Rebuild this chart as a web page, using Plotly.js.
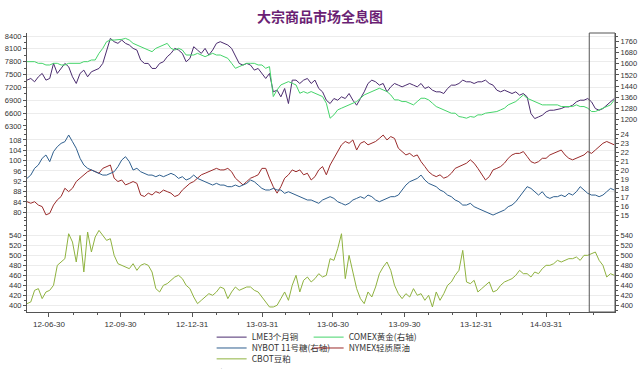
<!DOCTYPE html>
<html><head><meta charset="utf-8">
<script src="https://cdn.plot.ly/plotly-3.0.1.min.js"></script>
<style>html,body{margin:0;padding:0;background:#fff;}#chart{width:640px;height:369px;}</style>
</head><body><div id="chart"></div>
<script>
// Sampling: first sample 2012-06-01 18:00, one sample every 4.87 days
const startDate = Date.UTC(2012, 5, 1, 18);
const stepDays = 4.87;

const lmeCopper = [
7370,7409,7331,7448,7526,7370,7409,7760,7526,7643,
7760,7682,7448,7292,7526,7604,7448,7565,7604,7643,
7760,8072,8345,8267,8228,8306,8228,8189,8111,8072,
7838,7760,7760,7643,7643,7760,7799,7916,7994,8111,
8072,7994,7799,7877,8150,8072,7994,8111,7955,8072,
8228,8267,8228,8189,8111,7916,7760,7721,7760,7721,
7604,7643,7526,7409,7526,7097,7136,6980,7175,6824,
7370,7370,7292,7370,7409,7292,7370,7175,7097,6902,
6824,6941,6902,6980,6941,7058,6902,6785,6941,7097,
7292,7370,7331,7253,7292,7097,7214,7292,7253,7214,
7253,7292,7253,7214,7292,7175,7214,7136,7097,7097,
7058,7175,7253,7253,7292,7370,7331,7331,7292,7331,
7331,7370,7292,7253,7136,7097,7136,7097,7058,7097,
7019,7058,6980,6590,6473,6512,6551,6629,6668,6668,
6684,6707,6746,6746,6785,6863,6902,6902,6941,6863,
6707,6668,6707,6785,6863,6941];

const comexGold = [
1616,1616,1616,1604,1604,1592,1592,1604,1604,1592,
1592,1604,1604,1604,1604,1616,1616,1628,1628,1676,
1712,1760,1772,1772,1772,1777,1784,1772,1748,1736,
1724,1712,1700,1688,1712,1724,1736,1748,1712,1700,
1712,1700,1664,1664,1664,1676,1664,1652,1664,1676,
1664,1664,1652,1640,1604,1568,1580,1592,1604,1604,
1604,1592,1592,1568,1580,1364,1412,1448,1460,1472,
1460,1448,1388,1400,1388,1400,1388,1376,1364,1316,
1208,1232,1268,1280,1292,1304,1316,1328,1352,1376,
1388,1400,1412,1424,1412,1400,1376,1340,1340,1328,
1328,1316,1304,1328,1352,1352,1340,1316,1292,1280,
1268,1256,1244,1244,1220,1215,1208,1220,1215,1232,
1232,1244,1249,1256,1256,1268,1280,1304,1316,1328,
1352,1376,1352,1340,1328,1316,1304,1304,1304,1304,
1304,1292,1292,1292,1292,1304,1292,1292,1280,1256,
1256,1268,1280,1292,1304,1340];

const nybotSugar = [
19.07,19.44,20.19,20.56,21.30,21.67,20.93,22.04,22.59,22.96,
23.15,23.89,23.15,22.41,21.30,20.56,20.19,20.00,19.81,19.63,
19.44,19.44,19.63,19.81,20.37,21.11,21.48,20.93,20.00,20.19,
19.81,19.63,19.44,19.44,19.26,19.44,19.26,19.44,19.63,19.44,
19.07,19.26,18.89,19.07,19.44,19.07,18.89,18.70,18.52,18.33,
18.52,18.33,18.33,18.15,18.15,18.33,18.15,18.33,18.52,18.89,
18.70,18.33,17.96,17.78,17.78,17.96,17.78,17.78,17.41,17.59,
17.41,17.22,17.04,16.85,16.67,16.67,16.48,16.30,16.67,16.85,
17.04,16.85,16.48,16.30,16.11,16.30,16.67,16.85,17.04,16.85,
17.22,17.04,16.67,16.48,16.67,16.85,17.04,17.04,17.22,17.78,
18.33,18.70,18.89,19.07,19.44,18.89,18.52,18.33,18.15,17.78,
17.59,17.22,17.04,16.67,16.48,16.11,16.11,16.30,15.93,15.74,
15.56,15.37,15.19,15.00,15.19,15.37,15.56,15.93,16.11,16.48,
17.04,17.59,18.15,17.96,17.59,17.22,17.59,17.04,16.85,17.04,
17.04,17.22,17.04,17.41,17.22,17.59,18.15,17.78,17.41,17.22,
17.22,17.04,17.22,17.59,17.96,17.78];

const nymexCrude = [
84.1,83.5,84.1,82.8,82.2,79.0,79.6,82.8,84.8,86.1,
89.3,88.0,89.3,91.9,93.2,94.5,95.7,96.4,95.7,95.1,
97.0,97.7,98.3,93.2,91.9,92.5,90.6,91.2,91.9,91.2,
86.7,86.1,87.4,86.7,88.0,87.4,88.6,88.0,87.4,86.1,
86.7,88.6,89.9,91.2,91.9,93.2,94.5,95.1,95.7,96.4,
97.0,96.4,96.4,97.0,95.7,93.2,91.9,90.6,91.9,93.2,
93.8,94.5,97.0,97.0,93.2,89.9,87.4,89.9,93.2,94.5,
96.4,95.7,96.4,94.5,95.1,92.5,93.8,96.4,97.7,94.5,
98.3,100.9,103.5,106.1,107.4,106.7,108.0,104.1,106.7,107.4,
106.1,106.7,107.4,108.6,109.9,108.0,109.3,108.6,104.8,103.5,
102.2,102.8,101.6,102.2,99.6,97.7,95.7,94.5,93.8,94.5,
93.2,93.8,95.1,97.0,97.7,98.3,99.0,100.3,99.0,97.0,
94.5,92.5,93.8,96.4,97.0,97.7,99.0,100.9,102.2,102.8,
102.8,103.5,101.6,99.6,99.0,99.6,100.9,100.9,102.2,102.8,
103.5,104.1,102.2,100.9,100.3,100.9,101.6,102.2,103.5,102.8,
104.1,105.4,106.7,107.4,106.7,106.1];

const cbotSoymeal = [
403.3,406.7,430.1,433.5,413.4,426.8,430.1,440.2,480.4,487.1,
493.8,544.0,527.3,487.1,540.7,467.0,547.4,507.2,537.4,550.7,
540.7,530.6,534.0,500.5,483.7,480.4,477.0,473.7,483.7,470.3,
480.4,483.7,480.4,467.0,433.5,426.8,440.2,443.5,450.2,456.9,
460.3,453.6,440.2,433.5,416.7,403.3,410.0,416.7,423.4,420.1,
426.8,436.8,433.5,413.4,426.8,436.8,430.1,433.5,436.8,436.8,
430.1,426.8,416.7,406.7,396.6,396.6,400.0,413.4,426.8,410.0,
440.2,460.3,426.8,450.2,456.9,446.9,453.6,463.6,456.9,460.3,
493.8,490.4,513.9,544.0,453.6,500.5,463.6,433.5,413.4,403.3,
426.8,416.7,436.8,463.6,477.0,487.1,470.3,440.2,423.4,413.4,
423.4,416.7,433.5,420.1,423.4,410.0,420.1,396.6,426.8,410.0,
423.4,440.2,446.9,460.3,470.3,510.5,446.9,443.5,450.2,426.8,
433.5,440.2,446.9,426.8,430.1,440.2,446.9,450.2,453.6,460.3,
470.3,463.6,463.6,456.9,467.0,463.6,473.7,480.4,480.4,483.7,
490.4,487.1,490.4,493.8,493.8,497.1,490.4,500.5,500.5,503.8,
507.2,490.4,480.4,456.9,463.6,460.3];

const quarterTicks = ['2012-06-30','2012-09-30','2012-12-31','2013-03-31','2013-06-30','2013-09-30','2013-12-31','2014-03-31'];
const monthTicks = ['2012-06-30','2012-07-31','2012-08-31','2012-09-30','2012-10-31','2012-11-30','2012-12-31',
  '2013-01-31','2013-02-28','2013-03-31','2013-04-30','2013-05-31','2013-06-30','2013-07-31','2013-08-31',
  '2013-09-30','2013-10-31','2013-11-30','2013-12-31','2014-01-31','2014-02-28','2014-03-31','2014-04-30','2014-05-31'];

const copperTicks = [6300,6600,6900,7200,7500,7800,8100,8400];
const goldTicks = [1200,1280,1360,1440,1520,1600,1680,1760];
const crudeTicks = [80,84,88,92,96,100,104,108];
const sugarTicks = [15,16,17,18,19,20,21,22,23,24];
const soyTicks = [400,420,440,460,480,500,520,540];

const names = ['LME3个月铜','COMEX黄金(右轴)','NYBOT 11号糖(右轴)','NYMEX轻质原油','CBOT豆粕'];

const dates = lmeCopper.map((_, i) =>
  new Date(startDate + i * stepDays * 86400000).toISOString().slice(0, 19).replace('T', ' '));

const lw = 1;
const traces = [
  {x: dates, y: lmeCopper, name: names[0], yaxis: 'y', legend: 'legend', line: {color: '#4b2c6f', width: lw}},
  {x: dates, y: comexGold, name: names[1], yaxis: 'y2', legend: 'legend', line: {color: '#45d46a', width: lw}},
  {x: dates, y: nybotSugar, name: names[2], yaxis: 'y4', legend: 'legend2', line: {color: '#2f5f8e', width: lw}},
  {x: dates, y: nymexCrude, name: names[3], yaxis: 'y3', legend: 'legend2', line: {color: '#9a2b2b', width: lw}},
  {x: dates, y: cbotSoymeal, name: names[4], yaxis: 'y5', legend: 'legend3', line: {color: '#8fb23f', width: lw}}
].map(t => Object.assign({type: 'scatter', mode: 'lines', xaxis: 'x', hoverinfo: 'skip'}, t));

// invisible spacer entries so that the second legend column is not clipped
['legend', 'legend2'].forEach(lg => traces.push({type: 'scatter', mode: 'lines', x: [null], y: [null],
  xaxis: 'x', yaxis: 'y', name: ' ', legend: lg, hoverinfo: 'skip', line: {color: 'rgba(0,0,0,0)'}}));

// invisible trace so that the right axis of the bottom panel is drawn
traces.push({type: 'scatter', mode: 'lines', x: [null], y: [null], xaxis: 'x', yaxis: 'y6',
  showlegend: false, hoverinfo: 'skip', line: {color: 'rgba(0,0,0,0)'}});

const tickFont = {family: 'Liberation Sans, Arial, sans-serif', size: 7.5, color: '#333'};
function yAxis(opts) {
  return Object.assign({
    showline: true, linecolor: '#555', linewidth: 1,
    ticks: 'outside', ticklen: 3, tickcolor: '#555', tickwidth: 1,
    tickfont: tickFont, zeroline: false, automargin: false, fixedrange: true,
    tickmode: 'array', showgrid: false
  }, opts);
}

const legendFont = {family: 'Noto Sans CJK SC, sans-serif', size: 8.5, color: '#333'};
function legendRow(y) {
  return {orientation: 'h', x: 0.314, xanchor: 'left', y: y, yanchor: 'middle',
    bgcolor: 'rgba(0,0,0,0)', font: legendFont, entrywidth: 52, entrywidthmode: 'pixels',
    itemwidth: 30, tracegroupgap: 0, itemclick: false, itemdoubleclick: false};
}

const layout = {
  width: 640, height: 369,
  margin: {l: 27, r: 25, t: 33, b: 57, pad: 0, autoexpand: false},
  paper_bgcolor: '#ffffff', plot_bgcolor: '#ffffff',
  showlegend: true,
  title: {text: '<b>大宗商品市场全息图</b>', font: {family: 'Noto Sans CJK SC, sans-serif', size: 14, color: '#6b1f74'},
    x: 0.5, xref: 'container', xanchor: 'center', y: 0.955, yref: 'container', yanchor: 'middle'},
  xaxis: {
    type: 'date', anchor: 'y5', domain: [0, 1],
    range: ['2012-06-01 18:00', '2014-06-27 12:00'],
    tickmode: 'array', tickvals: quarterTicks, tickformat: '%y-%m-%d',
    ticks: 'outside', ticklen: 4, tickcolor: '#555', tickfont: Object.assign({}, tickFont, {size: 8}),
    showline: true, linecolor: '#555', linewidth: 1, showgrid: false, zeroline: false,
    automargin: false, fixedrange: true,
    minor: {tickmode: 'array', tickvals: monthTicks, ticks: 'outside', ticklen: 2, tickcolor: '#555', showgrid: false}
  },
  yaxis: yAxis({domain: [0.6667, 1], range: [6300, 8470], tickvals: copperTicks, anchor: 'x', side: 'left',
    showgrid: true, gridcolor: '#ececec', minor: {dtick: 150, tick0: 6300, ticks: 'outside', ticklen: 2, tickcolor: '#555'}}),
  yaxis2: yAxis({overlaying: 'y', side: 'right', anchor: 'x', range: [1151.7, 1822.8], tickvals: goldTicks,
    minor: {dtick: 40, tick0: 1200, ticks: 'outside', ticklen: 2, tickcolor: '#555'}}),
  yaxis3: yAxis({domain: [0.3333, 0.6667], range: [77.4, 113.4], tickvals: crudeTicks, anchor: 'x', side: 'left',
    showgrid: true, gridcolor: '#ececec', minor: {dtick: 2, tick0: 80, ticks: 'outside', ticklen: 2, tickcolor: '#555'}}),
  yaxis4: yAxis({overlaying: 'y3', side: 'right', anchor: 'x', range: [14.56, 24.89], tickvals: sugarTicks,
    minor: {dtick: 0.5, tick0: 15, ticks: 'outside', ticklen: 2, tickcolor: '#555'}}),
  yaxis5: yAxis({domain: [0, 0.3333], range: [386.5, 573.6], tickvals: soyTicks, anchor: 'x', side: 'left',
    showgrid: true, gridcolor: '#ececec', minor: {dtick: 10, tick0: 400, ticks: 'outside', ticklen: 2, tickcolor: '#555'}}),
  yaxis6: yAxis({overlaying: 'y5', side: 'right', anchor: 'x', range: [386.5, 573.6], tickvals: soyTicks,
    minor: {dtick: 10, tick0: 400, ticks: 'outside', ticklen: 2, tickcolor: '#555'}}),
  legend: legendRow(-0.09),
  legend2: legendRow(-0.129),
  legend3: legendRow(-0.168),
  shapes: [
    {type: 'rect', xref: 'x', yref: 'paper', x0: '2014-05-25 10:00', x1: '2014-06-27 12:00', y0: 0, y1: 1,
     line: {color: '#555', width: 1}, fillcolor: 'rgba(0,0,0,0)', layer: 'above'}
  ],
  annotations: [
    {text: '资料来源：Wind资讯，国信证券经济研究所整理', xref: 'paper', yref: 'paper', x: -0.04, y: -0.188,
     xanchor: 'left', yanchor: 'top', showarrow: false,
     font: {family: 'Noto Sans CJK SC, sans-serif', size: 11, color: '#222'}}
  ]
};

Plotly.newPlot('chart', traces, layout, {displayModeBar: false, staticPlot: true});
</script>
</body></html>
